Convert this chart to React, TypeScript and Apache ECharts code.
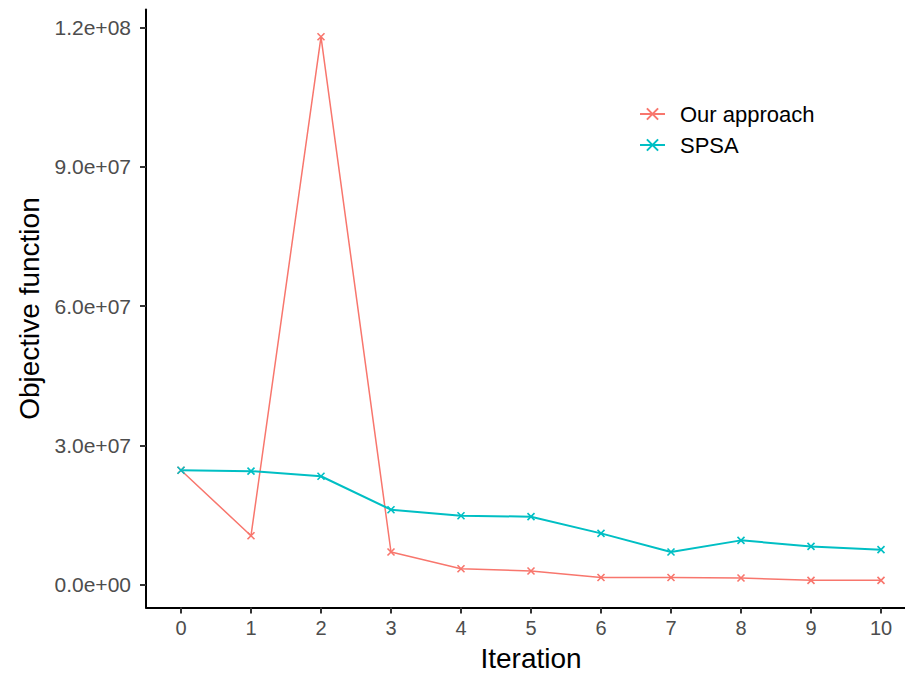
import React, { useEffect, useRef } from "react";
import * as echarts from "echarts";

const iterations = [0, 1, 2, 3, 4, 5, 6, 7, 8, 9, 10];
const ourApproach = [24.7e6, 10.6e6, 118.0e6, 7.1e6, 3.5e6, 3.0e6, 1.6e6, 1.6e6, 1.5e6, 1.0e6, 1.0e6];
const spsa = [24.7e6, 24.5e6, 23.4e6, 16.2e6, 14.9e6, 14.7e6, 11.1e6, 7.1e6, 9.6e6, 8.3e6, 7.6e6];
const yTicks = [0, 3e7, 6e7, 9e7, 1.2e8];
const seriesNames = ["Our approach", "SPSA"];
const colors = ["#F8766D", "#00BFC4"];

const FONT = "'Liberation Sans', Arial, Helvetica, sans-serif";
const XSYM = "path://M0,0L10,10M10,0L0,10";

function sci(v: number): string {
  if (v === 0) return "0.0e+00";
  const e = Math.floor(Math.log10(Math.abs(v)) + 1e-9);
  const m = v / Math.pow(10, e);
  return m.toFixed(1) + "e" + (e < 0 ? "-" : "+") + String(Math.abs(e)).padStart(2, "0");
}

export default function App() {
  const ref = useRef<HTMLDivElement>(null);
  useEffect(() => {
    if (!ref.current) return;
    const chart = echarts.init(ref.current, undefined, { renderer: "svg" });
    const mk = (name: string, vals: number[], color: string, width: number) => ({
      name,
      type: "line",
      data: iterations.map((x, i) => [x, vals[i]]),
      symbol: XSYM,
      symbolSize: 7,
      showSymbol: true,
      lineStyle: { color, width },
      itemStyle: { color: "none", borderColor: color, borderWidth: 1.6 },
      emphasis: { disabled: true },
    });
    chart.setOption({
      animation: false,
      backgroundColor: "#ffffff",
      textStyle: { fontFamily: FONT },
      grid: {
        left: 146,
        top: 9.6,
        width: 770,
        height: 597.9,
        containLabel: false,
        outerBoundsMode: "none",
      },
      legend: {
        orient: "vertical",
        left: 634,
        top: 98,
        itemWidth: 25,
        itemHeight: 14,
        itemGap: 9,
        data: seriesNames,
        textStyle: { fontSize: 22, color: "#000000", fontFamily: FONT, lineHeight: 22, padding: [0, 0, 0, 10] },
      },
      xAxis: {
        type: "value",
        min: -0.5,
        max: 10.5,
        name: "Iteration",
        nameLocation: "middle",
        nameGap: 37,
        nameTextStyle: { fontSize: 28, color: "#000000", fontFamily: FONT },
        axisLine: { onZero: false, lineStyle: { color: "#000000", width: 2 } },
        axisTick: { show: true, length: 6, lineStyle: { color: "#333333", width: 2 }, customValues: iterations },
        axisLabel: { fontSize: 20, color: "#4D4D4D", margin: 10, customValues: iterations, formatter: (v: number) => String(v) },
        splitLine: { show: false },
      },
      yAxis: {
        type: "value",
        min: -4.85e6,
        max: 1.2385e8,
        name: "Objective function",
        nameLocation: "middle",
        nameGap: 101,
        nameRotate: 90,
        nameTextStyle: { fontSize: 28, color: "#000000", fontFamily: FONT },
        axisLine: { show: true, onZero: false, lineStyle: { color: "#000000", width: 2 } },
        axisTick: { show: true, length: 6, lineStyle: { color: "#333333", width: 2 }, customValues: yTicks },
        axisLabel: { fontSize: 21, color: "#4D4D4D", margin: 15, customValues: yTicks, formatter: (v: number) => sci(v) },
        splitLine: { show: false },
      },
      series: [
        mk(seriesNames[0], ourApproach, colors[0], 1.5),
        mk(seriesNames[1], spsa, colors[1], 2),
      ],
    });
    return () => chart.dispose();
  }, []);
  return <div ref={ref} style={{ position: "fixed", left: 0, top: 0, width: 905, height: 674 }} />;
}
